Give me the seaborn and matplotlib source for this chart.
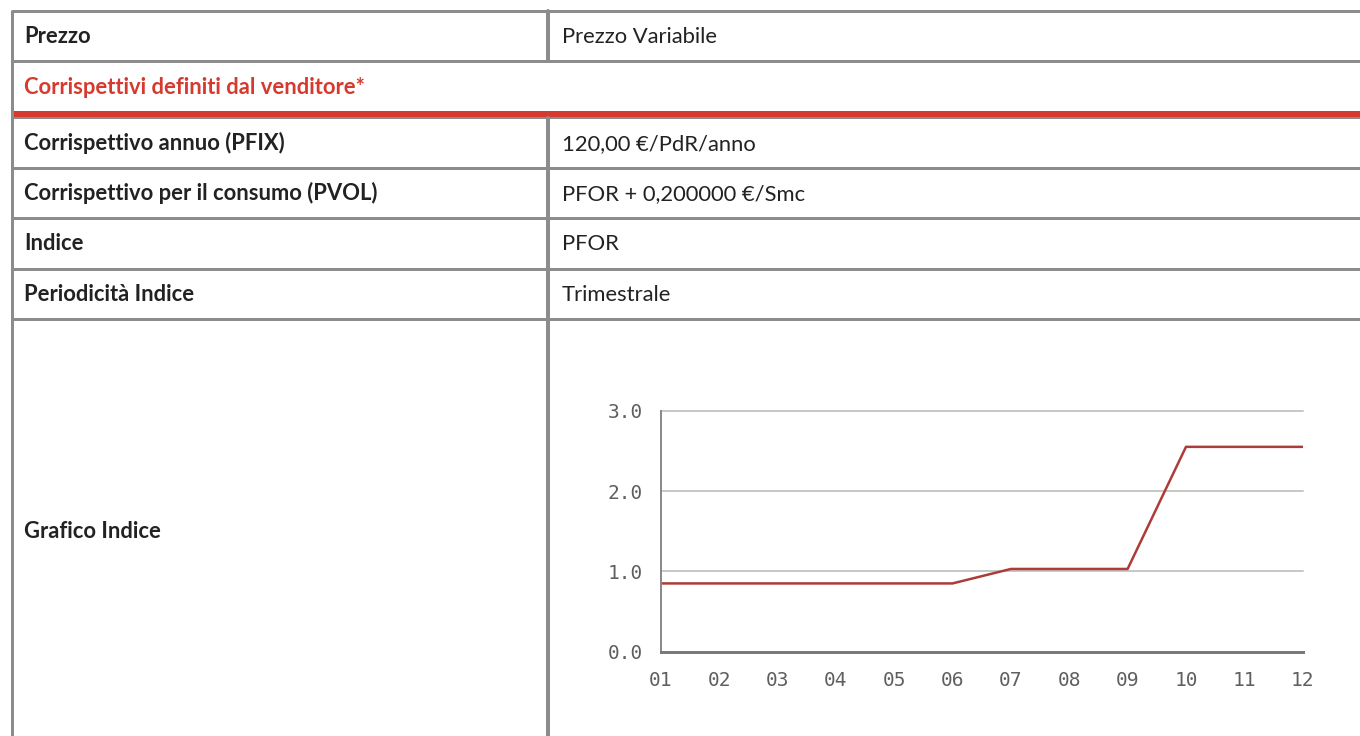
import matplotlib
matplotlib.use("Agg")
import matplotlib.pyplot as plt
from matplotlib.patches import Rectangle
import seaborn as sns
import pandas as pd

# table content
row_labels = [
    "Prezzo",
    "Corrispettivi definiti dal venditore*",
    "Corrispettivo annuo (PFIX)",
    "Corrispettivo per il consumo (PVOL)",
    "Indice",
    "Periodicità Indice",
    "Grafico Indice",
]
row_values = [
    "Prezzo Variabile",
    "",
    "120,00 €/PdR/anno",
    "PFOR + 0,200000 €/Smc",
    "PFOR",
    "Trimestrale",
    "",
]

# index chart data
months = ["01", "02", "03", "04", "05", "06", "07", "08", "09", "10", "11", "12"]
index_values = [0.85, 0.85, 0.85, 0.85, 0.85, 0.85, 1.03, 1.03, 1.03, 2.55, 2.55, 2.55]
y_ticks = [0.0, 1.0, 2.0, 3.0]

W, H, DPI = 1360, 736, 100
PX = 72 / DPI  # pixel -> points

sns.set_style("white")
plt.rcParams["font.family"] = ["Lato", "DejaVu Sans"]

fig = plt.figure(figsize=(W / DPI, H / DPI), dpi=DPI)
bg = fig.add_axes([0, 0, 1, 1])
bg.set_xlim(0, W)
bg.set_ylim(H, 0)
bg.axis("off")

border = "#8c8c8c"
red = "#d63a2f"
ink = "#222222"

# row geometry in pixels: (top, bottom)
rows_px = [(10.7, 61), (61, 111), (118, 167.5), (167.5, 217.5),
           (217.5, 268.5), (268.5, 318.5), (318.5, 744)]
col_x = 548
left_x = 11.5

# horizontal borders
for y in [10.7, 61, 167.5, 217.5, 268.5, 318.5]:
    bg.plot([left_x, W], [y, y], color=border, lw=3 * PX, solid_capstyle="butt")
bg.add_patch(Rectangle((left_x, 111), W - left_x, 6, color=red, lw=0))
bg.plot([left_x, W], [118.3, 118.3], color=border, lw=2 * PX)

# vertical borders
bg.plot([left_x, left_x], [10.7, H], color=border, lw=3 * PX)
bg.plot([col_x, col_x], [10.7, 61], color=border, lw=4 * PX)
bg.plot([col_x, col_x], [118, H], color=border, lw=4 * PX)

fs = 15.8
for i, (lab, val) in enumerate(zip(row_labels, row_values)):
    top, bot = rows_px[i]
    yc = (top + bot) / 2 if i < 6 else 531
    base = yc + 7.5
    color = red if i == 1 else ink
    bg.text(24, base, lab, fontsize=fs, fontweight="bold", color=color,
            va="baseline", ha="left")
    if val:
        bg.text(562, base, val, fontsize=fs, color=ink, va="baseline", ha="left")

# chart
x0, x1 = 660.7, 1302.7
y0, y1 = 651.7, 410.7
ax = fig.add_axes([x0 / W, 1 - y0 / H, (x1 - x0) / W, (y0 - y1) / H])
df = pd.DataFrame({"mese": months, "indice": index_values})
sns.lineplot(data=df, x="mese", y="indice", ax=ax, color="#ad3c38", lw=2.5 * PX)

ax.set_xlim(0, len(months) - 1)
ax.set_ylim(0, 3)
ax.set_yticks(y_ticks)
ax.set_yticklabels([f"{v:.1f}" for v in y_ticks])
ax.set_xlabel("")
ax.set_ylabel("")
ax.grid(axis="y", color="#c8c8c8", lw=2 * PX)
ax.grid(axis="x", visible=False)
for gl in ax.get_ygridlines():
    gl.set_clip_on(False)
for s in ["top", "right"]:
    ax.spines[s].set_visible(False)
ax.spines["left"].set_color("#8a8a8a")
ax.spines["left"].set_linewidth(2 * PX)
ax.spines["bottom"].set_color("#7a7a7a")
ax.spines["bottom"].set_linewidth(3 * PX)
ax.spines["bottom"].set_zorder(5)
ax.tick_params(axis="y", length=0, pad=13, labelsize=14, labelcolor="#5f5f5f")
ax.tick_params(axis="x", length=0, pad=14, labelsize=14, labelcolor="#5f5f5f")
for t in ax.get_xticklabels() + ax.get_yticklabels():
    t.set_family("DejaVu Sans Mono")
ax.set_facecolor("none")

fig.savefig("out.png", dpi=DPI)
